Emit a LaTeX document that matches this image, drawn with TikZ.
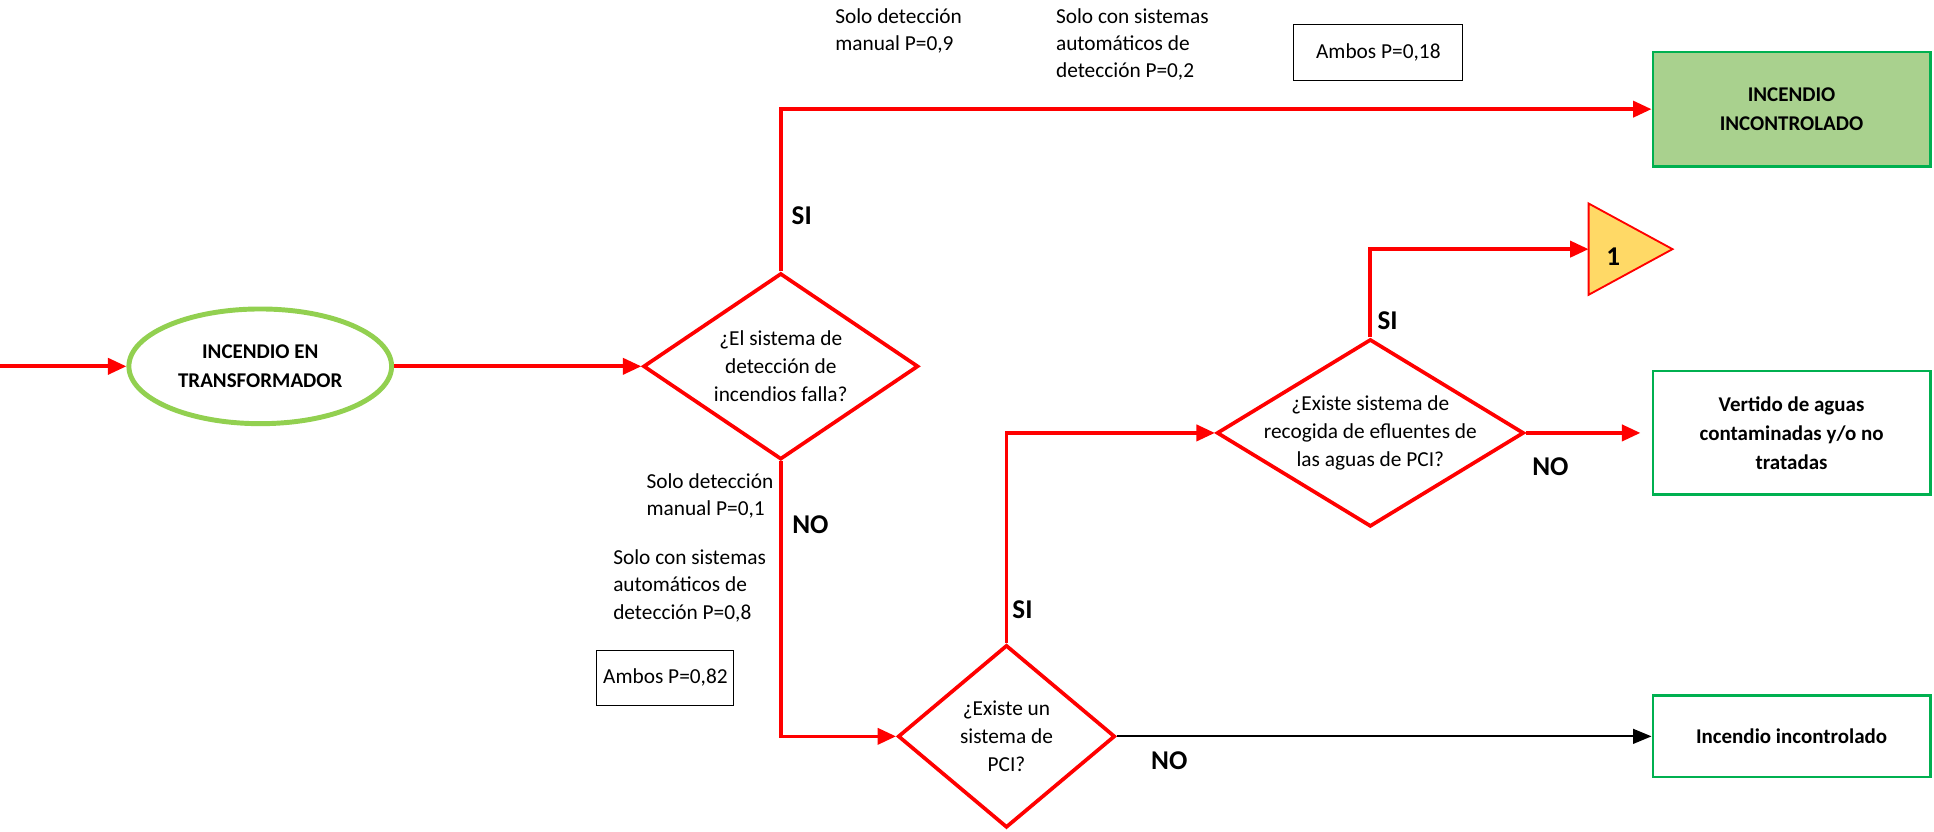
\documentclass[tikz,border=0pt]{standalone}
\usepackage{fontspec}
\setmainfont{Carlito}
\usetikzlibrary{shapes.geometric,arrows.meta}
\definecolor{rd}{HTML}{FF0000}
\definecolor{lg}{HTML}{92D050}
\definecolor{bg}{HTML}{00B050}
\definecolor{gf}{HTML}{A9D18E}
\definecolor{yf}{HTML}{FFD966}
\tikzset{
  txt/.style={font=\fontsize{17.3}{22}\selectfont, align=left, inner sep=0pt},
  bld/.style={font=\bfseries\fontsize{22}{24}\selectfont, inner sep=0pt},
  dia/.style={diamond, draw=rd, line width=3pt, inner sep=0pt},
  dtxt/.style={align=center, inner sep=0pt, font=\fontsize{17.3}{22.5}\selectfont},
  gbox/.style={rectangle, draw=bg, line width=2pt, align=center, font=\bfseries\fontsize{17}{23.5}\selectfont, minimum width=225pt},
  pbox/.style={rectangle, draw=black, line width=0.8pt, font=\fontsize{17.3}{22}\selectfont},
  rarr/.style={draw=rd, line width=3pt, -{Triangle[length=15pt,width=13pt]}},
  barr/.style={draw=black, line width=1.5pt, -{Triangle[length=15pt,width=12pt]}},
}
\begin{document}
\begin{tikzpicture}[x=1pt,y=-1pt]
\useasboundingbox (0,0) rectangle (1568,674);
% nodes
\coordinate (start) at (0,297);
\node[ellipse, draw=lg, line width=4pt, minimum width=213pt, minimum height=93pt, align=center,
      font=\bfseries\fontsize{17}{24}\selectfont] (e) at (211,297) {INCENDIO EN\\TRANSFORMADOR};
\node[dia, minimum width=223pt, minimum height=151pt] (d1) at (633,297) {};
\node[dtxt] (t1) at (d1) {¿El sistema de\\detección de\\incendios falla?};
\node[dia, minimum width=176pt, minimum height=148pt] (d2) at (816,597) {};
\node[dtxt] (t2) at (d2) {¿Existe un\\sistema de\\PCI?};
\node[dia, minimum width=249pt, minimum height=152pt] (d3) at (1111,351) {};
\node[dtxt] (t3) at (d3) {¿Existe sistema de\\recogida de efluentes de\\las aguas de PCI?};
\node[gbox, fill=gf, minimum height=93pt] (tb) at (1452.5,88.5) {INCENDIO\\INCONTROLADO};
\node[gbox, minimum height=100pt] (mb) at (1452.5,351) {Vertido de aguas\\contaminadas y/o no\\tratadas};
\node[gbox, minimum height=66pt] (bb) at (1452.5,597) {Incendio incontrolado};
% triangle
\draw[draw=rd, fill=yf, line width=1.5pt] (1288,165) -- (1356,202) -- (1288,239) -- cycle;
\coordinate (tri) at (1288,202);
\node[font=\bfseries\fontsize{22}{24}\selectfont] (one) at (1308,208) {1};
% probability labels
\node[txt, anchor=west] (l1) at (677,25) {Solo detección\\manual P=0,9};
\node[txt, anchor=west] (l2) at (856,36) {Solo con sistemas\\automáticos de\\detección P=0,2};
\node[pbox, minimum width=137pt, minimum height=45pt] (a1) at (1117.5,42.5) {Ambos P=0,18};
\node[txt, anchor=west] (l3) at (524,402) {Solo detección\\manual P=0,1};
\node[txt, anchor=west] (l4) at (497,475) {Solo con sistemas\\automáticos de\\detección P=0,8};
\node[pbox, minimum width=111pt, minimum height=45pt] (a2) at (539.5,549.5) {Ambos P=0,82};
% branch labels
\node[bld] (si1) at (650,175) {SI};
\node[bld] (no1) at (657,425) {NO};
\node[bld] (si2) at (829,494) {SI};
\node[bld] (no2) at (948,617) {NO};
\node[bld] (si3) at (1125,260) {SI};
\node[bld] (no3) at (1257,378) {NO};
% connectors
\draw[rarr] (start) -- (e.west);
\draw[rarr] (e.east) -- (d1.west);
\draw[rarr] (d1.north) |- (tb.west);
\draw[rarr] (d1.south) |- (d2.west);
\draw[rarr] (d2.north) |- (d3.west);
\draw[rarr] (d3.north) |- (tri);
\draw[rarr, shorten >=9pt] (d3.east) -- (mb.west);
\draw[barr] (d2.east) -- (bb.west);
\end{tikzpicture}
\end{document}
